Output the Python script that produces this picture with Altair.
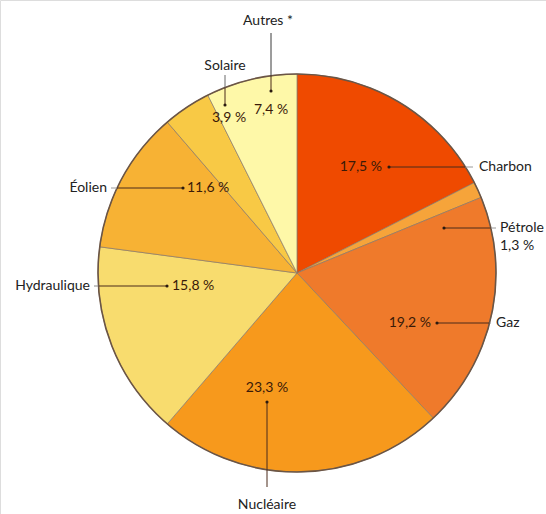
import math
import altair as alt
import pandas as pd

# ---- data ----
categories = ["Charbon", "Pétrole", "Gaz", "Nucléaire", "Hydraulique", "Éolien", "Solaire", "Autres *"]
values = [17.5, 1.3, 19.2, 23.3, 15.8, 11.6, 3.9, 7.4]
pct_labels = ["17,5 %", "1,3 %", "19,2 %", "23,3 %", "15,8  %", "11,6 %", "3,9 %", "7,4 %"]
colors = ["#EF4A00", "#F6A43A", "#EF7A2B", "#F7991C", "#F8DC6E", "#F7B234", "#F8C945", "#FEF8A8"]

# ---- layout (offsets from pie centre, y downward) ----
R = 199
W, H = 546, 514
CX, CY = 297, 273
# dot, pct pos, pct align, line end, name pos, name align, outside line colour
layout = {
    "Charbon":     ((92, -106), (85, -106), "right", (176, -106), (182, -106), "left", "#9a9a9a"),
    "Pétrole":     ((147, -45), None, None, (199, -45), (203, -45), "left", "#9a9a9a"),
    "Gaz":         ((140, 50), (134, 50), "right", (194, 50), (199, 50), "left", "#9a9a9a"),
    "Nucléaire":   ((-30, 129), (-30, 115), "center", (-30, 214), (-30, 232), "center", "#4a2a1a"),
    "Hydraulique": ((-130, 13), (-125, 13), "left", (-203, 13), (-207, 13), "right", "#8a8a8a"),
    "Éolien":      ((-114, -85), (-110, -85), "left", (-186, -85), (-190, -85), "right", "#9a9a9a"),
    "Solaire":     ((-72, -168), (-68, -155), "center", (-72, -198), (-72, -207), "center", "#6a6a6a"),
    "Autres *":    ((-26, -182), (-26, -163), "center", (-26, -240), (-29, -252), "center", "#3a3a3a"),
}

pie_df = pd.DataFrame({"cat": categories, "value": values, "idx": list(range(len(categories))),
                       "cx": 0, "cy": 0})
centre_df = pd.DataFrame({"cx": [0], "cy": [0]})

xs = alt.Scale(domain=[-CX, W - CX])
ys = alt.Scale(domain=[-CY, H - CY], reverse=True)

text_rows, line_rows, dot_rows = [], [], []
for cat, pct in zip(categories, pct_labels):
    dot, ppos, palign, lend, npos, nalign, ocol = layout[cat]
    dot_rows.append({"x": dot[0], "y": dot[1]})
    text_rows.append({"x": npos[0], "y": npos[1], "t": cat, "align": nalign, "kind": "name"})
    if ppos is None:
        text_rows.append({"x": npos[0], "y": npos[1] + 18, "t": pct, "align": nalign, "kind": "name"})
    else:
        text_rows.append({"x": ppos[0], "y": ppos[1], "t": pct, "align": palign, "kind": "pct"})
    x0, y0 = dot
    x1, y1 = lend
    if y0 == y1:
        edge = math.sqrt(max(R * R - y0 * y0, 0))
        ex = edge if x1 > x0 else -edge
        line_rows.append({"x": x0, "y": y0, "x2": ex, "y2": y0, "c": "#4a2a1a"})
        line_rows.append({"x": ex, "y": y0, "x2": x1, "y2": y1, "c": ocol})
    else:
        edge = math.sqrt(max(R * R - x0 * x0, 0))
        ey = edge if y1 > y0 else -edge
        line_rows.append({"x": x0, "y": y0, "x2": x0, "y2": ey, "c": "#4a2a1a"})
        line_rows.append({"x": x0, "y": ey, "x2": x1, "y2": y1, "c": ocol})

text_df = pd.DataFrame(text_rows)
line_df = pd.DataFrame(line_rows)
dot_df = pd.DataFrame(dot_rows)

FONT = "Lato"
FS = 14

pie = alt.Chart(pie_df).mark_arc(radius=R, stroke="#8a7868", strokeWidth=0.7).encode(
    theta=alt.Theta("value:Q", stack=True),
    order=alt.Order("idx:Q"),
    color=alt.Color("cat:N", scale=alt.Scale(domain=categories, range=colors), legend=None),
    x=alt.X("cx:Q", scale=xs, axis=None),
    y=alt.Y("cy:Q", scale=ys, axis=None),
)

ring = alt.Chart(centre_df).mark_point(
    shape="circle", filled=False, size=(2 * R) ** 2, stroke="#6b5545", strokeWidth=1.6, opacity=1
).encode(
    x=alt.X("cx:Q", scale=xs, axis=None),
    y=alt.Y("cy:Q", scale=ys, axis=None),
)

lines = alt.Chart(line_df).mark_rule(strokeWidth=1).encode(
    x=alt.X("x:Q", scale=xs, axis=None),
    y=alt.Y("y:Q", scale=ys, axis=None),
    x2="x2:Q",
    y2="y2:Q",
    color=alt.Color("c:N", scale=None),
)

dots = alt.Chart(dot_df).mark_point(filled=True, size=10, color="#2a1a10", opacity=1).encode(
    x=alt.X("x:Q", scale=xs, axis=None),
    y=alt.Y("y:Q", scale=ys, axis=None),
)

def text_layer(align):
    return alt.Chart(text_df).transform_filter(f"datum.align == '{align}'").mark_text(
        align=align, baseline="middle", font=FONT, fontSize=FS
    ).encode(
        x=alt.X("x:Q", scale=xs, axis=None),
        y=alt.Y("y:Q", scale=ys, axis=None),
        text="t:N",
        color=alt.condition("datum.kind == 'pct'", alt.value("#3a1a08"), alt.value("#222222")),
    )

chart = alt.layer(
    pie, ring, lines, dots, text_layer("left"), text_layer("right"), text_layer("center")
).properties(
    width=W, height=H, padding=0, autosize=alt.AutoSizeParams(type="none")
).configure_view(stroke=None).configure(background="white")

chart.save("out.html", embed_options={"renderer": "svg", "actions": False})
